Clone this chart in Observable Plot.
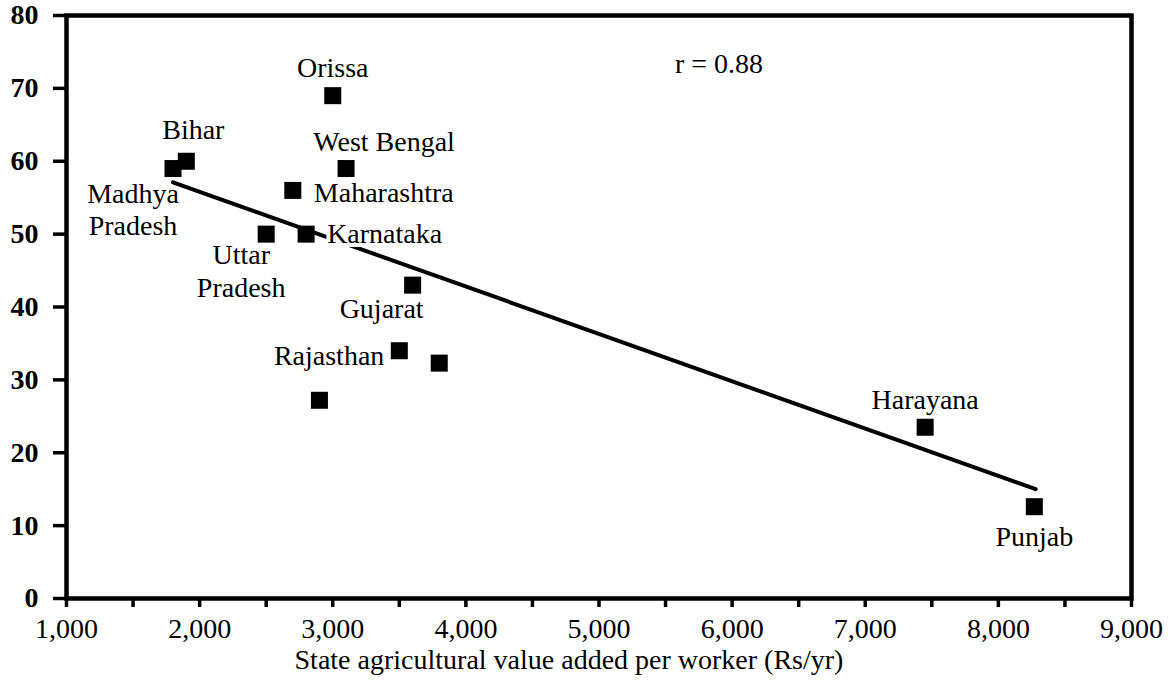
<!DOCTYPE html>
<html><head><meta charset="utf-8">
<script src="https://cdn.jsdelivr.net/npm/d3@7"></script>
<script src="https://cdn.jsdelivr.net/npm/@observablehq/plot@0.6"></script>
<style>
body{margin:0;background:#fff;}
#chart svg{display:block;}
</style></head><body><div id="chart"></div>
<script>
// Data
const states  = ["Madhya Pradesh","Bihar","Orissa","West Bengal","Maharashtra","Uttar Pradesh","Karnataka","Gujarat","Rajasthan","(unlabelled A)","(unlabelled B)","Harayana","Punjab"];
const valueAdded = [1800, 1900, 3000, 3100, 2700, 2500, 2800, 3600, 3500, 3800, 2900, 7450, 8270];
const poverty    = [59,   60,   69,   59,   56,   50,   50,   43,   34,   32.3, 27.2, 23.5, 12.6];
const trendX = [1800, 8280];
const trendY = [57.1, 15.0];
const xLabelTicks = [1000, 2000, 3000, 4000, 5000, 6000, 7000, 8000, 9000];
const xMinorTicks = [1000,1500,2000,2500,3000,3500,4000,4500,5000,5500,6000,6500,7000,7500,8000,8500,9000];
const yTicks = [0, 10, 20, 30, 40, 50, 60, 70, 80];
const xTitle = "State agricultural value added per worker (Rs/yr)";
const rText = "r = 0.88";

const data = states.map((s, i) => ({state: s, x: valueAdded[i], y: poverty[i]}));
const trend = trendX.map((x, i) => ({x, y: trendY[i]}));
const pick = (name) => data.filter(d => d.state === name);
const two = (d) => d.state.replace(" ", "\n");
const F = 28;

const chart = Plot.plot({
  width: 1169,
  height: 682,
  marginLeft: 66,
  marginRight: 38,
  marginTop: 15,
  marginBottom: 84,
  style: {fontFamily: "'Liberation Serif', serif", fontSize: F + "px", color: "black", background: "white"},
  x: {domain: [1000, 9000]},
  y: {domain: [0, 80]},
  marks: [
    Plot.axisY(yTicks, {tickSize: 13, tickPadding: 15, strokeWidth: 3.5, fontSize: F, fontWeight: "bold", label: null}),
    Plot.axisX(xMinorTicks, {tickSize: 9, strokeWidth: 3.5, tickFormat: () => "", label: null}),
    Plot.axisX(xLabelTicks, {tickSize: 0, tickPadding: 20, tickFormat: d3.format(","), fontSize: F, label: null}),
    Plot.frame({stroke: "black", strokeWidth: 4.5}),
    Plot.line(trend, {x: "x", y: "y", stroke: "black", strokeWidth: 4, strokeLinecap: "round"}),
    Plot.dot(data, {x: "x", y: "y", symbol: "square", r: 9.6, fill: "black", stroke: "none"}),
    Plot.text(pick("Orissa"), {x: "x", y: "y", text: "state", dy: -28, fontSize: F}),
    Plot.text(pick("Bihar"), {x: "x", y: "y", text: "state", dx: 7, dy: -31, fontSize: F}),
    Plot.text(pick("West Bengal"), {x: "x", y: "y", text: "state", dx: 38, dy: -27, fontSize: F}),
    Plot.text(pick("Madhya Pradesh"), {x: "x", y: "y", text: two, dx: -40, dy: 40, lineHeight: 1.15, fontSize: F}),
    Plot.text(pick("Maharashtra"), {x: "x", y: "y", text: "state", textAnchor: "start", dx: 21, dy: 3, fontSize: F}),
    Plot.text(pick("Karnataka"), {x: "x", y: "y", text: "state", textAnchor: "start", dx: 21, dy: 0, fontSize: F, stroke: "white", strokeWidth: 8, fill: "black"}),
    Plot.text(pick("Uttar Pradesh"), {x: "x", y: "y", text: two, dx: -25, dy: 36, lineHeight: 1.15, fontSize: F}),
    Plot.text(pick("Gujarat"), {x: "x", y: "y", text: "state", dx: -31, dy: 24, fontSize: F}),
    Plot.text(pick("Rajasthan"), {x: "x", y: "y", text: "state", textAnchor: "end", dx: -15, dy: 5, fontSize: F}),
    Plot.text(pick("Harayana"), {x: "x", y: "y", text: "state", dy: -27, fontSize: F}),
    Plot.text(pick("Punjab"), {x: "x", y: "y", text: "state", dy: 30, fontSize: F}),
    Plot.text([rText], {frameAnchor: "top", dx: 120, dy: 38, fontSize: F}),
    Plot.text([xTitle], {frameAnchor: "bottom", dx: -30, dy: 70, fontSize: F})
  ]
});
document.getElementById("chart").appendChild(chart);
</script></body></html>
